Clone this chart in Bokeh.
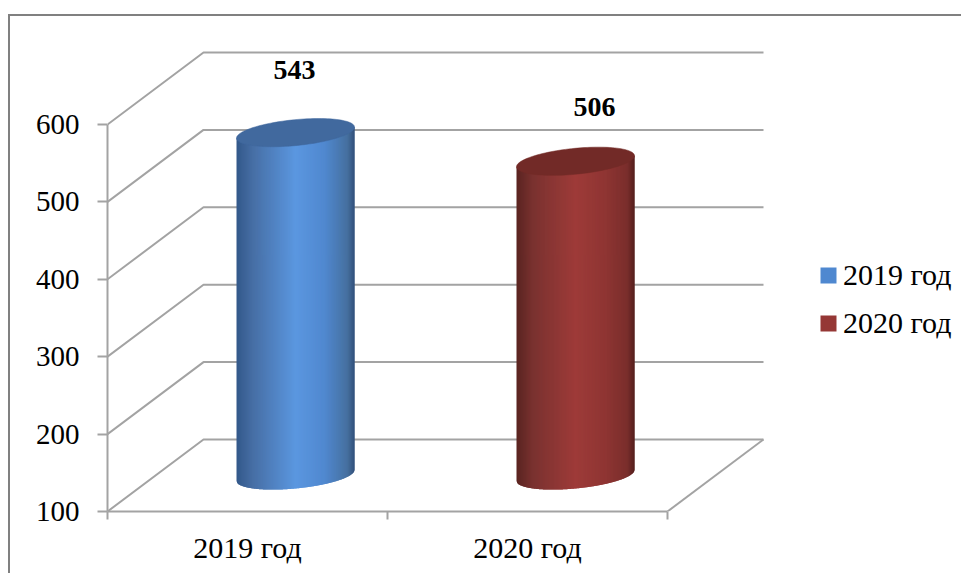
import numpy as np
from bokeh.embed import file_html
from bokeh.resources import INLINE
from bokeh.plotting import figure
from bokeh.core.properties import value
from bokeh.models import (FixedTicker, Legend, LegendItem, Range1d)

# ---- data ----
categories = ["2019 год", "2020 год"]
values = [543, 506]
y_ticks = [100, 200, 300, 400, 500, 600]

# ---- styles / layout ----
W, H = 953, 559
LEFT, BOTTOM = 97, 64            # frame offset inside the figure
PX_X = 280.0                     # px per category
PX_Y = 0.774                     # px per value unit
DEPTH_X, DEPTH_Y = 96 / PX_X, 72 / PX_Y   # back-wall shift in data units
HALF_W = 59 / PX_X
ELL_B, ELL_S = 13 / PX_Y, 5.5 / PX_Y
GRID = "#a3a3a3"
FONT = "Liberation Serif"
stops_x = [-1.0, -0.72, 0.0, 0.5, 0.88, 1.0]
blue_stops = ["#33588a", "#476fa5", "#5b97e0", "#5088cf", "#46709f", "#32507a"]
red_stops = ["#5a2421", "#7a3230", "#9e3b39", "#8f3533", "#7a2e2c", "#541f1d"]
cap_colors = ["#41699e", "#722a27"]
swatches = ["#4f88d0", "#953735"]
label_lift = [63, 54]
label_shift = [-1, 19]


def ramp(stops, u):
    rgb = np.array([[int(s[i:i + 2], 16) for i in (1, 3, 5)] for s in stops], float)
    c = [np.interp(u, stops_x, rgb[:, k]) for k in range(3)]
    return "#%02x%02x%02x" % tuple(int(round(v)) for v in c)


p = figure(width=W, height=H, output_backend="svg", toolbar_location=None,
           x_range=Range1d(0, (W - LEFT) / PX_X),
           y_range=Range1d(100, 100 + (H - BOTTOM) / PX_Y),
           min_border_left=LEFT, min_border_bottom=BOTTOM,
           min_border_top=0, min_border_right=0,
           background_fill_color="white", border_fill_color="white",
           margin=(14, 0, 0, 8),
           styles={"border-left": "2px solid #808080", "border-top": "2px solid #808080"})
p.outline_line_color = None
p.grid.visible = False

# y axis
ya = p.yaxis[0]
ya.ticker = FixedTicker(ticks=y_ticks)
ya.bounds = (100, 600)
ya.axis_line_color = GRID
ya.axis_line_width = 2
ya.major_tick_line_color = GRID
ya.major_tick_line_width = 2
ya.major_tick_out = 10
ya.major_tick_in = 0
ya.minor_tick_out = 0
ya.minor_tick_in = 0
ya.major_label_standoff = 18
ya.major_label_text_font = FONT
ya.major_label_text_font_size = "29px"
ya.major_label_text_color = "#000000"

# x axis: labels on category centres, tick marks on the boundaries
xa = p.xaxis[0]
xa.ticker = FixedTicker(ticks=[0.5, 1.5], minor_ticks=[0, 1, 2])
xa.major_label_overrides = {0.5: categories[0], 1.5: categories[1]}
xa.bounds = (0, 2)
xa.axis_line_color = GRID
xa.axis_line_width = 2
xa.major_tick_out = 0
xa.major_tick_in = 0
xa.minor_tick_line_color = GRID
xa.minor_tick_line_width = 2
xa.minor_tick_out = 8
xa.minor_tick_in = 0
xa.major_label_standoff = 11
xa.major_label_text_font = FONT
xa.major_label_text_font_size = "30px"
xa.major_label_text_color = "#000000"

# 3D walls
for v in y_ticks:
    p.line([0, DEPTH_X, 2 + DEPTH_X], [v, v + DEPTH_Y, v + DEPTH_Y],
           line_color=GRID, line_width=2)
p.line([2, 2 + DEPTH_X], [100, 100 + DEPTH_Y], line_color=GRID, line_width=2)

# cylinders
n = 120
edges = np.linspace(-1, 1, n + 1)
for i, val in enumerate(values):
    cx = i + 0.5 + DEPTH_X / 2
    y0 = 100 + DEPTH_Y / 2
    yt = val + DEPTH_Y / 2
    stops = [blue_stops, red_stops][i]
    xs, ys, cols = [], [], []
    for a, b in zip(edges[:-1], edges[1:]):
        b2 = min(b + 2 / n, 1.0)       # overlap the next strip: no seams
        us = np.linspace(a, b2, 4)
        bot = y0 - ELL_B * np.sqrt(1 - us ** 2) + ELL_S * us
        top = yt + ELL_S * us
        xs.append(list(cx + HALF_W * us) + list(cx + HALF_W * us[::-1]))
        ys.append(list(bot) + list(top[::-1]))
        cols.append(ramp(stops, (a + b) / 2))
    p.patches(xs, ys, fill_color=cols, line_color=None)
    t = np.linspace(0, 2 * np.pi, 120)
    p.patch(cx + HALF_W * np.cos(t),
            yt + ELL_B * np.sin(t) + ELL_S * np.cos(t),
            fill_color=cap_colors[i], line_color=cap_colors[i], line_width=0.5)
    p.text([cx], [yt], text=[str(val)], text_font=value(FONT), text_font_style="bold",
           text_font_size="28px", text_color="#000000", text_align="center",
           text_baseline="middle", x_offset=label_shift[i], y_offset=-label_lift[i])

# legend
items = []
for lab, col in zip(categories, swatches):
    r = p.quad(left=[float("nan")], right=[float("nan")], top=[float("nan")],
               bottom=[float("nan")], fill_color=col, line_color=None)
    items.append(LegendItem(label=lab, renderers=[r]))
leg = Legend(items=items, location=(711, 171), orientation="vertical",
             background_fill_alpha=0, border_line_color=None, padding=0, margin=0,
             glyph_width=20, glyph_height=20, spacing=14, label_standoff=5,
             label_text_font=FONT, label_text_font_size="30px", label_text_color="#000000")
p.add_layout(leg, "center")

open("out.html", "w").write(file_html(p, INLINE))
